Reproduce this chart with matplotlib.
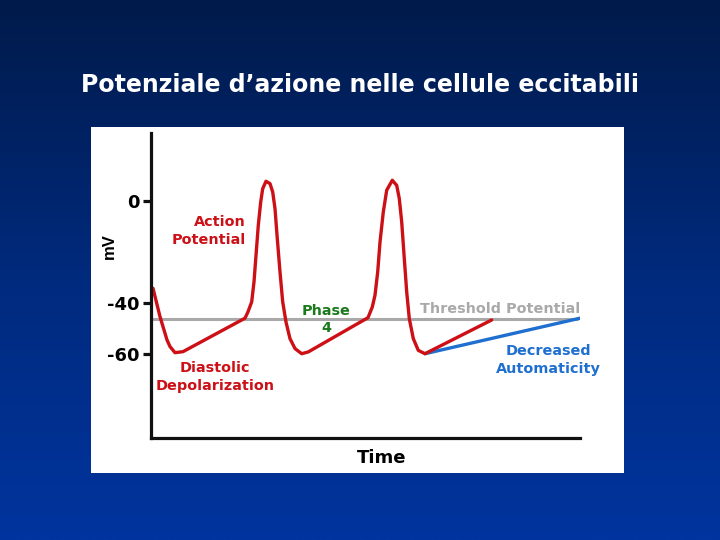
import numpy as np
import matplotlib
matplotlib.use("Agg")
import matplotlib.pyplot as plt
from matplotlib.colors import LinearSegmentedColormap

# Membrane potential (mV) vs time (arbitrary units)
t_red = [2, 9, 16, 19, 24, 32, 94, 97, 100.7, 103, 105, 107.3, 109.7, 111.7,
         115, 119, 121.7, 124, 126.3, 129, 131.7, 135, 139, 144, 150.7, 157.3,
         217, 221.3, 224, 226.7, 229, 232.3, 235.7, 241.3, 245.7, 248.3,
         250.7, 253.3, 255.7, 258.3, 262.3, 267.3, 274, 340.7]
mv_red = [-34.3, -45.4, -54.5, -57.1, -59.5, -59.1, -46.0, -43.5, -39.6,
          -31.8, -21.4, -9.6, -0.5, 4.7, 7.6, 6.7, 3.4, -3.1, -14.9, -27.9,
          -39.6, -47.5, -54.0, -57.9, -59.9, -59.2, -45.8, -41.6, -37.0,
          -27.9, -16.2, -4.4, 4.1, 8.0, 6.0, 0.8, -8.3, -22.7, -35.7, -46.2,
          -54.0, -58.6, -59.9, -46.7]

t_blue = [274, 429]
mv_blue = [-59.9, -46.0]

threshold_mv = -46.3
threshold_t = [1, 427]

yticks = [0, -40, -60]
ytick_labels = ["0", "-40", "-60"]

red = "#cc1016"
blue = "#1f6fd0"
green = "#1b7a1b"
grey = "#a9a9a9"

fig = plt.figure(figsize=(7.2, 5.4), dpi=100)

# slide background gradient
bg = fig.add_axes([0, 0, 1, 1])
cmap = LinearSegmentedColormap.from_list("slide", ["#001a4a", "#002a7c", "#00349e"])
grad = np.linspace(0, 1, 256).reshape(-1, 1)
bg.imshow(grad, aspect="auto", cmap=cmap, extent=[0, 1, 0, 1], origin="upper")
bg.set_xlim(0, 1)
bg.set_ylim(0, 1)
bg.axis("off")

# white panel
bg.add_patch(plt.Rectangle((91 / 720, 1 - 473 / 540), 533 / 720, 346 / 540,
                           facecolor="white", edgecolor="none"))

fig.text(0.5, 1 - 85 / 540, "Potenziale d\u2019azione nelle cellule eccitabili",
         color="white", fontsize=17, fontweight="bold", family="DejaVu Sans",
         ha="center", va="center")

ax = fig.add_axes([151 / 720, 1 - 438 / 540, 429 / 720, 305 / 540])
ax.set_facecolor("none")
ax.set_xlim(0, 429)
ax.set_ylim(-92.9, 26.5)

ax.plot(threshold_t, [threshold_mv, threshold_mv], color=grey, lw=2.2,
        solid_capstyle="butt")
ax.plot(t_blue, mv_blue, color=blue, lw=2.4, solid_capstyle="round")
ax.plot(t_red, mv_red, color=red, lw=2.4, solid_joinstyle="round",
        solid_capstyle="round")

for s in ["top", "right"]:
    ax.spines[s].set_visible(False)
for s in ["left", "bottom"]:
    ax.spines[s].set_linewidth(2.3)
    ax.spines[s].set_color("#111111")

ax.set_xticks([])
ax.set_yticks(yticks)
ax.set_yticklabels(ytick_labels, fontsize=13, fontweight="bold",
                   family="DejaVu Sans")
ax.tick_params(axis="y", length=6, width=2.3, color="#111111", pad=2)

ax.set_ylabel("mV", fontsize=12, fontweight="bold", family="Liberation Sans",
              va="center")
ax.yaxis.set_label_coords(-0.098, 0.63)
ax.set_xlabel("Time", fontsize=13, fontweight="bold", family="DejaVu Sans",
              va="center")
ax.xaxis.set_label_coords(0.538, -0.066)

tk = dict(fontsize=10.4, fontweight="bold", family="DejaVu Sans",
          linespacing=1.35)
ax.text(95, -11.7, "Action\nPotential", color=red, ha="right", va="center", **tk)
ax.text(64, -69.0, "Diastolic\nDepolarization", color=red, ha="center",
        va="center", **tk)
ax.text(175, -46.5, "Phase\n4", color=green, ha="center", va="center", **tk)
ax.text(269, -42.4, "Threshold Potential", color=grey, ha="left",
        va="center", **tk)
ax.text(397, -62.2, "Decreased\nAutomaticity", color=blue, ha="center",
        va="center", **tk)

fig.savefig("out.png", dpi=100)
